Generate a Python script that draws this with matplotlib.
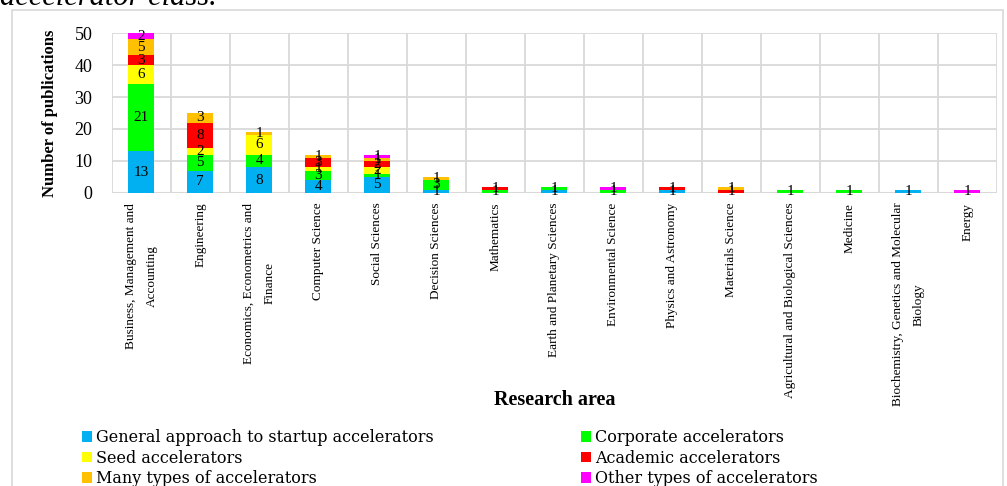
import numpy as np
import matplotlib
matplotlib.use("Agg")
import matplotlib.pyplot as plt
from matplotlib.patches import Patch, Rectangle

plt.rcParams["font.family"] = ["Liberation Serif", "DejaVu Serif"]

areas = [
    "Business, Management and\nAccounting",
    "Engineering",
    "Economics, Econometrics and\nFinance",
    "Computer Science",
    "Social Sciences",
    "Decision Sciences",
    "Mathematics",
    "Earth and Planetary Sciences",
    "Environmental Science",
    "Physics and Astronomy",
    "Materials Science",
    "Agricultural and Biological Sciences",
    "Medicine",
    "Biochemistry, Genetics and Molecular\nBiology",
    "Energy",
]

general = [13, 7, 8, 4, 5, 1, 0, 1, 0, 1, 0, 0, 0, 1, 0]
corporate = [21, 5, 4, 3, 1, 3, 1, 1, 1, 0, 0, 1, 1, 0, 0]
seed = [6, 2, 6, 1, 2, 0, 0, 0, 0, 0, 0, 0, 0, 0, 0]
academic = [3, 8, 0, 3, 2, 0, 1, 0, 0, 1, 1, 0, 0, 0, 0]
many = [5, 3, 1, 1, 1, 1, 0, 0, 0, 0, 1, 0, 0, 0, 0]
other = [2, 0, 0, 0, 1, 0, 0, 0, 1, 0, 0, 0, 0, 0, 1]

series = [
    ("General approach to startup accelerators", general, "#00B0F0"),
    ("Corporate accelerators", corporate, "#00FF00"),
    ("Seed accelerators", seed, "#FFFF00"),
    ("Academic accelerators", academic, "#FF0000"),
    ("Many types of accelerators", many, "#FFC000"),
    ("Other types of accelerators", other, "#FF00FF"),
]

fig = plt.figure(figsize=(10.07, 4.86), dpi=100)
ax = fig.add_axes([0.111, 0.603, 0.879, 0.329])

x = np.arange(len(areas))
bottom = np.zeros(len(areas))
handles = {}
for name, vals, col in series:
    vals = np.array(vals, dtype=float)
    ax.bar(x, vals, 0.44, bottom=bottom, color=col, zorder=3)
    handles[name] = Patch(facecolor=col)
    for xi, b, v in zip(x, bottom, vals):
        if v > 0:
            ax.text(xi, b + v / 2, f"{int(v)}", ha="center", va="center",
                    fontsize=11, zorder=4)
    bottom += vals

ax.set_xlim(-0.5, len(areas) - 0.5)
ax.set_ylim(0, 50)
ax.set_yticks(range(0, 51, 10))
ax.set_xticks(x)
ax.set_xticklabels(areas, rotation=90, ha="center", va="top",
                   multialignment="center", linespacing=2.0)
ax.tick_params(axis="y", length=0, labelsize=13, pad=14)
ax.tick_params(axis="x", length=0, labelsize=9.5, pad=7)

# grid: horizontal at each 10, vertical between categories
for y in range(10, 51, 10):
    ax.axhline(y, color="#D9D9D9", lw=1.3, zorder=1)
for b in np.arange(-0.5, len(areas), 1.0):
    ax.axvline(b, color="#D9D9D9", lw=1.3, zorder=1)
for s in ax.spines.values():
    s.set_visible(False)
ax.axhline(0, color="#D9D9D9", lw=1.5, zorder=2)

fig.text(50 / 1007, 1 - 113 / 486, "Number of publications", rotation=90,
         ha="center", va="center", fontsize=12, fontweight="bold")
fig.text(555 / 1007, 1 - 400 / 486, "Research area", ha="center",
         va="center", fontsize=14.5, fontweight="bold")

fig.text(0.0, 1 - 5 / 486, "accelerator class.", ha="left", va="baseline",
         fontsize=22, style="italic")

fig.add_artist(Rectangle((12 / 1007, -0.02), 991 / 1007, 1 - 10 / 486 + 0.02,
                         transform=fig.transFigure, fill=False,
                         edgecolor="#D9D9D9", lw=1.2))

order = [
    "General approach to startup accelerators",
    "Seed accelerators",
    "Many types of accelerators",
    "Corporate accelerators",
    "Academic accelerators",
    "Other types of accelerators",
]
fig.legend([handles[n] for n in order], order, ncol=2, loc="upper left",
           bbox_to_anchor=(74 / 1007, 1 - 421 / 486), frameon=False,
           prop={"family": "DejaVu Serif", "size": 11.5},
           handlelength=0.65, handleheight=0.65,
           handletextpad=0.25, columnspacing=9.2, labelspacing=0.22,
           borderpad=0)

fig.savefig("out.png", dpi=100)
